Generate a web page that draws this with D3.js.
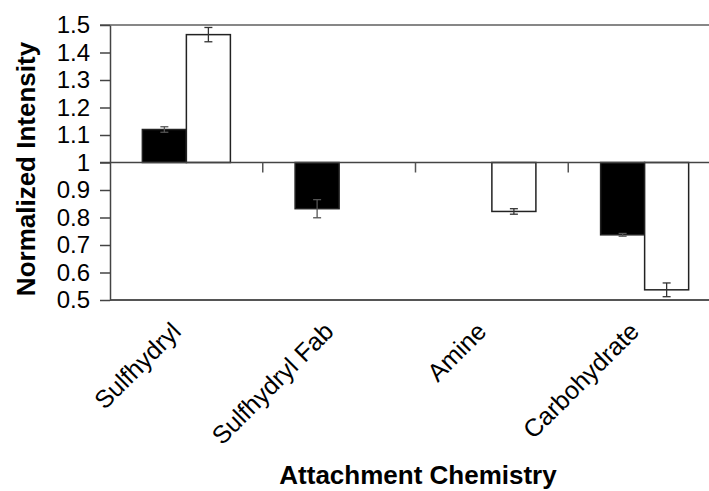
<!DOCTYPE html>
<meta charset="utf-8">
<style>
body { margin: 0; background: #fff; }
text { font-family: "Liberation Sans", Arial, sans-serif; fill: #000; }
.yaxis text { font-size: 24px; }
.xlab { font-size: 25px; }
.title { font-size: 26px; font-weight: bold; }
</style>
<svg width="709" height="491"></svg>
<script src="https://d3js.org/d3.v7.min.js"></script>
<script>

var categories = ["Sulfhydryl", "Sulfhydryl Fab", "Amine", "Carbohydrate"];
var series = ["black", "white"];
// bar values (null = no bar) and error half-widths
var blackVals = [1.12, 0.832, null, 0.737];
var blackErr  = [0.010, 0.033, null, 0.005];
var whiteVals = [1.465, null, 0.822, 0.537];
var whiteErr  = [0.026, null, 0.010, 0.025];
var yTicks = [0.5, 0.6, 0.7, 0.8, 0.9, 1, 1.1, 1.2, 1.3, 1.4, 1.5];
var yTickLabels = ["0.5", "0.6", "0.7", "0.8", "0.9", "1", "1.1", "1.2", "1.3", "1.4", "1.5"];

var svg = d3.select("svg");

var x0 = d3.scaleBand().domain(categories).range([110, 721]);
var x1 = d3.scaleBand().domain(series).range([0, x0.bandwidth()]).paddingOuter(0.735);
var y = d3.scaleLinear().domain([0.5, 1.5]).range([300, 25]);

var rows = [];
categories.forEach(function(c, i) {
  if (blackVals[i] != null) rows.push({cat: c, s: "black", v: blackVals[i], e: blackErr[i]});
  if (whiteVals[i] != null) rows.push({cat: c, s: "white", v: whiteVals[i], e: whiteErr[i]});
});

/************* FRAME LINES ***************/
svg.append("line")
    .attr("x1", 100).attr("x2", 721)
    .attr("y1", y(1.5)).attr("y2", y(1.5))
    .attr("stroke", "#111").attr("stroke-width", 1.2);
svg.append("line")
    .attr("x1", 110).attr("x2", 721)
    .attr("y1", y(0.5)).attr("y2", y(0.5))
    .attr("stroke", "#555").attr("stroke-width", 2);

/************* BARS ***************/
svg.append("g").selectAll("rect")
    .data(rows)
    .enter().append("rect")
      .attr("x", function(d) { return x0(d.cat) + x1(d.s); })
      .attr("width", x1.bandwidth())
      .attr("y", function(d) { return Math.min(y(d.v), y(1)); })
      .attr("height", function(d) { return Math.abs(y(d.v) - y(1)); })
      .attr("fill", function(d) { return d.s === "black" ? "#000" : "#fff"; })
      .attr("stroke", "#222")
      .attr("stroke-width", 1.5);

/************* ERROR BARS ***************/
var eb = svg.append("g").selectAll("g")
    .data(rows)
    .enter().append("g")
      .attr("stroke", function(d) { return d.s === "black" ? "#555" : "#333"; })
      .attr("stroke-width", 1.3);
eb.append("line")
    .attr("x1", function(d) { return x0(d.cat) + x1(d.s) + x1.bandwidth() / 2; })
    .attr("x2", function(d) { return x0(d.cat) + x1(d.s) + x1.bandwidth() / 2; })
    .attr("y1", function(d) { return y(d.v + d.e); })
    .attr("y2", function(d) { return y(d.v - d.e); });
[1, -1].forEach(function(sgn) {
  eb.append("line")
      .attr("x1", function(d) { return x0(d.cat) + x1(d.s) + x1.bandwidth() / 2 - 4; })
      .attr("x2", function(d) { return x0(d.cat) + x1(d.s) + x1.bandwidth() / 2 + 4; })
      .attr("y1", function(d) { return y(d.v + sgn * d.e); })
      .attr("y2", function(d) { return y(d.v + sgn * d.e); });
});

/************* BASELINE AT 1 + CATEGORY TICKS ***************/
svg.append("line")
    .attr("x1", 100).attr("x2", 721)
    .attr("y1", y(1)).attr("y2", y(1))
    .attr("stroke", "#444").attr("stroke-width", 1.5);
svg.append("g").selectAll("line")
    .data(categories.slice(1))
    .enter().append("line")
      .attr("x1", function(d) { return x0(d); })
      .attr("x2", function(d) { return x0(d); })
      .attr("y1", y(1)).attr("y2", y(1) + 10)
      .attr("stroke", "#555").attr("stroke-width", 1.5);

/************* Y AXIS ***************/
var yAxis = d3.axisLeft(y)
    .tickValues(yTicks)
    .tickFormat(function(d, i) { return yTickLabels[i]; })
    .tickSize(10)
    .tickSizeOuter(0)
    .tickPadding(10);
svg.append("g")
    .attr("class", "yaxis")
    .attr("transform", "translate(110,0)")
    .call(yAxis)
    .call(function(g) {
      g.selectAll("line, path").attr("stroke", "#444").attr("stroke-width", 1.5);
      g.selectAll("text").attr("font-family", null).attr("font-size", null).attr("fill", "#000");
    });

/************* X LABELS ***************/
svg.append("g").selectAll("text")
    .data(categories)
    .enter().append("text")
      .attr("class", "xlab")
      .attr("text-anchor", "end")
      .attr("transform", function(d) {
        return "translate(" + (x0(d) + x0.bandwidth() / 2 - 4) + ",333) rotate(-45)";
      })
      .text(function(d) { return d; });

/************* TITLES ***************/
svg.append("text")
    .attr("class", "title")
    .attr("text-anchor", "middle")
    .attr("x", 418).attr("y", 484)
    .text("Attachment Chemistry");

svg.append("text")
    .attr("class", "title")
    .attr("text-anchor", "middle")
    .attr("transform", "translate(35,169) rotate(-90)")
    .text("Normalized Intensity");

</script>
